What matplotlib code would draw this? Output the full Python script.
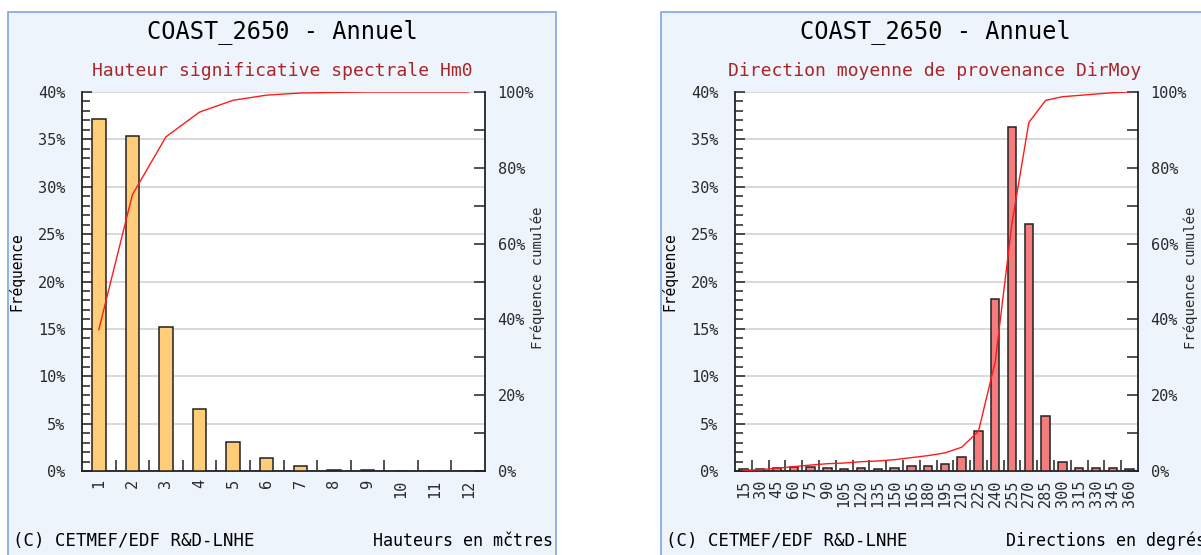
import matplotlib

matplotlib.use("Agg")

import matplotlib.pyplot as plt
import numpy as np
from matplotlib.patches import Rectangle
from matplotlib.ticker import FixedLocator, FuncFormatter, MultipleLocator

W, H = 1201, 555

# Hm0 classes (m) and frequency (%)
HM0_CLASSES = ["1", "2", "3", "4", "5", "6", "7", "8", "9", "10", "11", "12"]
HM0_FREQ = [37.1, 35.4, 15.2, 6.5, 3.1, 1.35, 0.55, 0.15, 0.12, 0.0, 0.0, 0.0]

# direction classes (deg) and frequency (%)
DIR_CLASSES = ["15", "30", "45", "60", "75", "90", "105", "120", "135", "150",
               "165", "180", "195", "210", "225", "240", "255", "270", "285",
               "300", "315", "330", "345", "360"]
DIR_FREQ = [0.18, 0.18, 0.35, 0.42, 0.42, 0.35, 0.18, 0.35, 0.18, 0.35,
            0.53, 0.53, 0.70, 1.48, 4.2, 18.2, 36.3, 26.1, 5.77,
            0.95, 0.35, 0.35, 0.35, 0.18]

TITLE = "COAST_2650 - Annuel"
FOOTER = "(C) CETMEF/EDF R&D-LNHE"

MONO = "DejaVu Sans Mono"
PANEL_BG = "#eef4fc"
PANEL_EDGE = "#86aee4"
TXT = "#2a2a2a"


def fx(px):
    return px / W


def fy(py):
    return 1.0 - py / H


def draw_panel(fig, off, subtitle, classes, freq, bar_color, bar_width, unit_text):
    fig.add_artist(Rectangle((fx(8 + off), fy(565)), 548 / W, 553 / H,
                             transform=fig.transFigure, facecolor=PANEL_BG,
                             edgecolor=PANEL_EDGE, lw=1.3, zorder=0))

    fig.text(fx(282 + off), fy(32), TITLE, ha="center", va="center",
             family=MONO, fontsize=17, color="black")
    fig.text(fx(282 + off), fy(71), subtitle, ha="center", va="center",
             family=MONO, fontsize=13, color="#a8262a")

    ax = fig.add_axes([fx(82 + off), fy(471), 403 / W, 379 / H])
    ax.set_facecolor("white")
    x = np.arange(len(classes))
    ax.bar(x, freq, width=bar_width, color=bar_color, edgecolor="#222222",
           lw=1.1, zorder=3)
    ax.set_xlim(-0.5, len(classes) - 0.5)
    ax.set_ylim(0, 40)

    ax.yaxis.set_major_locator(MultipleLocator(5))
    ax.yaxis.set_minor_locator(MultipleLocator(1))
    ax.yaxis.set_major_formatter(FuncFormatter(lambda v, _: f"{v:.0f}%"))
    ax.grid(axis="y", which="major", color="#d6d6d6", lw=1.3, zorder=0)

    ax.set_xticks(x)
    ax.set_xticklabels(classes, rotation=90, va="top", ha="center")
    ax.xaxis.set_minor_locator(FixedLocator(x[:-1] + 0.5))
    ax.tick_params(axis="x", which="major", length=0, pad=6,
                   labelsize=11, labelcolor=TXT)
    ax.tick_params(axis="x", which="minor", direction="in", length=8,
                   width=1.1, color="#222222")
    ax.tick_params(axis="y", which="both", direction="in", width=1.1,
                   color="#222222", labelsize=11, labelcolor=TXT)
    ax.tick_params(axis="y", which="major", length=7, pad=12)
    ax.tick_params(axis="y", which="minor", length=6)
    for labels in ax.get_xticklabels() + ax.get_yticklabels():
        labels.set_family(MONO)

    for side in ("left", "bottom"):
        ax.spines[side].set_linewidth(1.3)
        ax.spines[side].set_color("#222222")
    ax.spines["top"].set_visible(False)
    ax.spines["right"].set_visible(False)

    ax2 = ax.twinx()
    cum = np.cumsum(freq) / np.sum(freq) * 100.0
    ax2.plot(x, cum, color="#ff1a1a", lw=1.0, zorder=4)
    ax2.set_ylim(0, 100)
    ax2.yaxis.set_major_locator(MultipleLocator(20))
    ax2.yaxis.set_minor_locator(MultipleLocator(10))
    ax2.yaxis.set_major_formatter(FuncFormatter(lambda v, _: f"{v:.0f}%"))
    ax2.tick_params(axis="y", which="both", direction="in", width=1.1,
                    color="#222222", labelsize=11, labelcolor=TXT)
    ax2.tick_params(axis="y", which="major", length=8, pad=9)
    ax2.tick_params(axis="y", which="minor", length=8)
    for labels in ax2.get_yticklabels():
        labels.set_family(MONO)
    for side in ("top", "left", "bottom"):
        ax2.spines[side].set_visible(False)
    ax2.spines["right"].set_linewidth(1.3)
    ax2.spines["right"].set_color("#222222")

    fig.text(fx(16 + off), fy(272), "Fréquence", rotation=90, ha="center",
             va="center", family=MONO, fontsize=10.5, color="black")
    fig.text(fx(538 + off), fy(278), "Fréquence cumulée", rotation=90,
             ha="center", va="center", family=MONO, fontsize=10, color=TXT)

    fig.text(fx(13 + off), fy(541), FOOTER, ha="left", va="center",
             family=MONO, fontsize=12.5, color="black")
    fig.text(fx(553 + off), fy(541), unit_text, ha="right", va="center",
             family=MONO, fontsize=12, color="black")


def main():
    fig = plt.figure(figsize=(W / 100, H / 100), dpi=100)
    fig.patch.set_facecolor("white")

    draw_panel(fig, 0, "Hauteur significative spectrale Hm0", HM0_CLASSES,
               HM0_FREQ, "#ffcc77", 0.4, "Hauteurs en mčtres")
    draw_panel(fig, 653, "Direction moyenne de provenance DirMoy", DIR_CLASSES,
               DIR_FREQ, "#f47c7c", 0.5, "Directions en degrés")

    fig.savefig("out.png", dpi=100)
    plt.close(fig)


if __name__ == "__main__":
    main()
